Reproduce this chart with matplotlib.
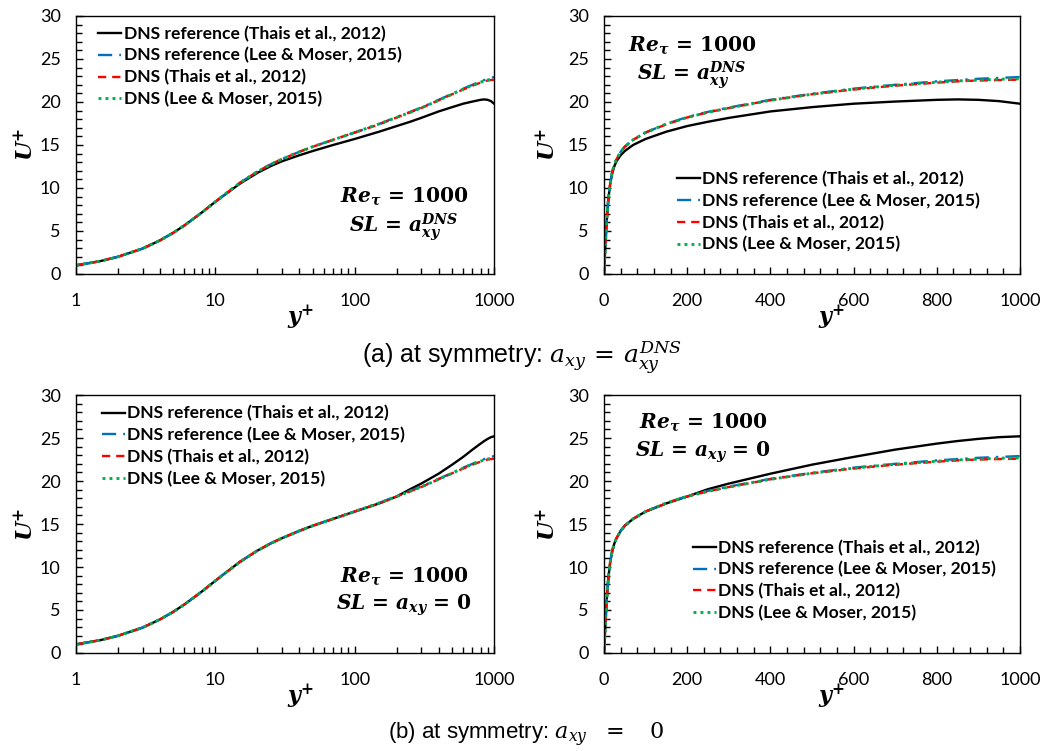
"""
Mean velocity profiles U+ vs y+ at Re_tau = 1000
(a) SL = a_xy^DNS, (b) SL = a_xy = 0 ; log and linear y+ axes
"""
import matplotlib
matplotlib.use('Agg')
import matplotlib.pyplot as plt
from matplotlib.ticker import MultipleLocator, FixedLocator, LogLocator, FuncFormatter, NullFormatter

plt.rcParams['mathtext.fontset'] = 'dejavuserif'

TICK_FONT = 'Lato'
CAPTION_FONT = 'Liberation Sans'

# y+ grid shared by all profiles
y_plus = [0, 0.5, 1, 1.5, 2, 3, 4, 5, 6, 7, 8, 10, 12, 15, 20, 25, 30, 40, 50, 70,
          100, 150, 200, 250, 300, 400, 500, 600, 700, 800, 850, 900, 950, 1000]

# DNS reference (Lee & Moser, 2015)
u_ref_lm = [0, 0.5, 1.0, 1.5, 2.0, 2.95, 3.9, 4.8, 5.65, 6.45, 7.15, 8.4, 9.4, 10.6, 11.9, 12.75,
            13.35, 14.2, 14.8, 15.6, 16.45, 17.45, 18.25, 18.85, 19.35, 20.25, 20.95, 21.55,
            22.0, 22.4, 22.55, 22.7, 22.8, 22.9]
# DNS (Thais et al., 2012)
u_dns_thais = [0, 0.5, 1.0, 1.5, 2.0, 2.95, 3.9, 4.8, 5.65, 6.45, 7.15, 8.4, 9.4, 10.6, 11.9, 12.75,
               13.35, 14.2, 14.8, 15.6, 16.45, 17.4, 18.2, 18.8, 19.3, 20.2, 20.9, 21.45,
               21.9, 22.25, 22.4, 22.5, 22.55, 22.6]
# DNS (Lee & Moser, 2015)
u_dns_lm = [0, 0.5, 1.0, 1.5, 2.0, 2.95, 3.9, 4.8, 5.65, 6.45, 7.15, 8.4, 9.4, 10.6, 11.9, 12.75,
            13.35, 14.2, 14.8, 15.6, 16.45, 17.45, 18.2, 18.8, 19.3, 20.2, 20.9, 21.5,
            21.95, 22.3, 22.45, 22.55, 22.65, 22.7]
# DNS reference (Thais et al., 2012), case (a) and case (b)
u_ref_thais_a = [0, 0.5, 1.0, 1.5, 2.0, 2.95, 3.9, 4.8, 5.65, 6.45, 7.15, 8.4, 9.35, 10.5, 11.75, 12.55,
                 13.1, 13.8, 14.3, 15.0, 15.7, 16.55, 17.2, 17.7, 18.15, 18.9, 19.4, 19.8,
                 20.05, 20.25, 20.3, 20.25, 20.1, 19.8]
u_ref_thais_b = [0, 0.5, 1.0, 1.5, 2.0, 2.95, 3.9, 4.8, 5.65, 6.45, 7.15, 8.4, 9.4, 10.6, 11.9, 12.75,
                 13.35, 14.2, 14.8, 15.6, 16.45, 17.4, 18.2, 19.05, 19.7, 20.85, 21.9, 22.8,
                 23.65, 24.35, 24.65, 24.9, 25.1, 25.2]

labels = ['DNS reference (Thais et al., 2012)', 'DNS reference (Lee & Moser, 2015)',
          'DNS (Thais et al., 2012)', 'DNS (Lee & Moser, 2015)']

LINE_STYLES = [
    dict(color='black', lw=1.7, ls='-'),
    dict(color='#0070c0', lw=1.7, ls=(0, (6, 3, 1, 3))),
    dict(color='#ff0000', lw=1.7, ls=(0, (3.5, 2.5))),
    dict(color='#00b050', lw=2.1, ls=(0, (1, 1.4))),
]

fig = plt.figure(figsize=(10.53, 7.51), dpi=100)

AX_W_L, AX_W_R, AX_H = 0.397, 0.395, 0.3435
positions = {
    'a_log': [0.0722, 0.6352, AX_W_L, AX_H],
    'a_lin': [0.5736, 0.6352, AX_W_R, AX_H],
    'b_log': [0.0722, 0.1305, AX_W_L, AX_H],
    'b_lin': [0.5736, 0.1305, AX_W_R, AX_H],
}

ANNOT_A = [r'$\mathbfit{Re}_{\mathbfit{\tau}}\,\mathbf{=}\,\mathbf{1000}$',
           r'$\mathbfit{SL}\,\mathbf{=}\,\mathbfit{a}_{\mathbfit{xy}}^{\mathbfit{DNS}}$']
ANNOT_B = [r'$\mathbfit{Re}_{\mathbfit{\tau}}\,\mathbf{=}\,\mathbf{1000}$',
           r'$\mathbfit{SL}\,\mathbf{=}\,\mathbfit{a}_{\mathbfit{xy}}\,\mathbf{=}\,\mathbf{0}$']


def style_axis(ax, log):
    ax.set_ylim(0, 30)
    ax.yaxis.set_major_locator(MultipleLocator(5))
    ax.yaxis.set_minor_locator(MultipleLocator(1))
    if log:
        ax.set_xscale('log')
        ax.set_xlim(1, 1000)
        ax.xaxis.set_major_locator(FixedLocator([1, 10, 100, 1000]))
        ax.xaxis.set_major_formatter(FuncFormatter(lambda v, p: f'{v:g}'))
        ax.xaxis.set_minor_locator(LogLocator(base=10, subs=range(2, 10)))
        ax.xaxis.set_minor_formatter(NullFormatter())
    else:
        ax.set_xlim(0, 1000)
        ax.xaxis.set_major_locator(MultipleLocator(200))
        ax.xaxis.set_minor_locator(MultipleLocator(40))
    ax.tick_params(which='both', direction='in', top=False, right=False)
    ax.tick_params(which='major', length=5, width=1)
    ax.tick_params(which='minor', length=4, width=1)
    ax.tick_params(axis='y', which='major', pad=11)
    ax.tick_params(axis='x', which='major', pad=14)
    for lab in ax.get_xticklabels() + ax.get_yticklabels():
        lab.set_fontfamily(TICK_FONT)
        lab.set_fontsize(13)
    for spine in ax.spines.values():
        spine.set_linewidth(1.0)


def draw_panel(key, u_thais_ref, log, legend_anchor, annot, annot_xy):
    ax = fig.add_axes(positions[key])
    series = [u_thais_ref, u_ref_lm, u_dns_thais, u_dns_lm]
    start = 2 if log else 0
    for u, lab, st in zip(series, labels, LINE_STYLES):
        ax.plot(y_plus[start:], u[start:], label=lab, **st)
    style_axis(ax, log)
    ax.legend(loc='upper left', bbox_to_anchor=legend_anchor, frameon=False,
              handlelength=1.3, handletextpad=0.15, labelspacing=0.32, borderpad=0,
              borderaxespad=0, prop={'family': TICK_FONT, 'weight': 'bold', 'size': 12.6})
    for (x, y), txt in zip(annot_xy, annot):
        ax.text(x, y, txt, transform=ax.transAxes, ha='center', va='baseline', fontsize=14.5)
    ax.set_ylabel(r'$\mathbfit{U}^{\mathbf{+}}$', fontsize=16, va='center')
    ax.set_xlabel(r'$\mathbfit{y}^{\mathbf{+}}$', fontsize=16, va='center')
    if log:
        ax.yaxis.set_label_coords(-0.122, 0.5)
        ax.xaxis.set_label_coords(0.536, -0.171)
    else:
        ax.yaxis.set_label_coords(-0.135, 0.5)
        ax.xaxis.set_label_coords(0.548, -0.171)
    return ax


draw_panel('a_log', u_ref_thais_a, True, (0.053, 0.963), ANNOT_A, [(0.785, 0.279), (0.785, 0.163)])
draw_panel('a_lin', u_ref_thais_a, False, (0.175, 0.40), ANNOT_A, [(0.212, 0.864), (0.212, 0.752)])
draw_panel('b_log', u_ref_thais_b, True, (0.062, 0.96), ANNOT_B, [(0.785, 0.275), (0.785, 0.167)])
draw_panel('b_lin', u_ref_thais_b, False, (0.214, 0.44), ANNOT_B, [(0.238, 0.872), (0.238, 0.760)])

fig.text(362 / 1053, 1 - 358 / 751, r'(a) at symmetry: $a_{xy}\,=\,a_{xy}^{DNS}$',
         ha='left', va='center', fontsize=18, family=CAPTION_FONT)
fig.text(388 / 1053, 1 - 735 / 751, r'(b) at symmetry: $a_{xy}\;\;\,=\;\;\;\,0$',
         ha='left', va='center', fontsize=16, family=CAPTION_FONT)

fig.savefig('out.png', dpi=100, facecolor='white')
